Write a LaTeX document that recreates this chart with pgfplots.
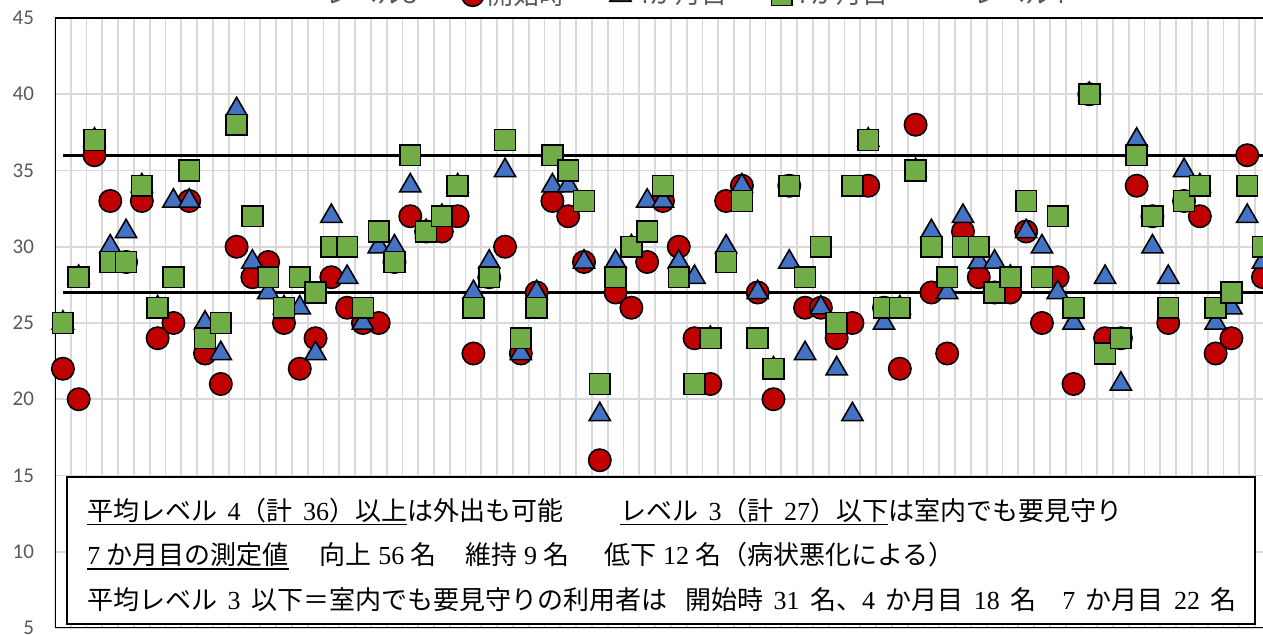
\documentclass[border=0pt]{standalone}
\usepackage{fontspec}
\usepackage{pgfplots}
\usepackage{pgfplotstable}
\pgfplotsset{compat=1.18}
\newfontfamily\cjk{Noto Sans CJK JP}
\newfontfamily\num{Liberation Serif}
\newfontfamily\carlito{Carlito}
\definecolor{cred}{HTML}{C00000}
\definecolor{cblue}{HTML}{4472C4}
\definecolor{cgreen}{HTML}{70AD47}
\definecolor{cgrid}{HTML}{D9D9D9}
\definecolor{ctext}{HTML}{595959}
\newcommand{\ul}[1]{\setbox0\hbox{#1}\rlap{\rule[-2.6pt]{\wd0}{0.9pt}}\box0}
\newcommand{\g}{\hspace{0.4em}}
\newcommand{\h}{\hspace{0.25em}}
\pgfplotstableread{
i c t s
0 22 25 25
1 20 28 28
2 36 37 37
3 33 30 29
4 29 31 29
5 33 34 34
6 24 26 26
7 25 33 28
8 33 33 35
9 23 25 24
10 21 23 25
11 30 39 38
12 28 29 32
13 29 27 28
14 25 26 26
15 22 26 28
16 24 23 27
17 28 32 30
18 26 28 30
19 25 25 26
20 25 30 31
21 29 30 29
22 32 34 36
23 31 31 31
24 31 32 32
25 32 34 34
26 23 27 26
27 28 29 28
28 30 35 37
29 23 23 24
30 27 27 26
31 33 34 36
32 32 34 35
33 29 29 33
34 16 19 21
35 27 29 28
36 26 30 30
37 29 33 31
38 33 33 34
39 30 29 28
40 24 28 21
41 21 24 24
42 33 30 29
43 34 34 33
44 27 27 24
45 20 22 22
46 34 29 34
47 26 23 28
48 26 26 30
49 24 22 25
50 25 19 34
51 34 37 37
52 26 25 26
53 22 26 26
54 38 35 35
55 27 31 30
56 23 27 28
57 31 32 30
58 28 29 30
59 27 29 27
60 27 28 28
61 31 31 33
62 25 30 28
63 28 27 32
64 21 25 26
65 40 40 40
66 24 28 23
67 24 21 24
68 34 37 36
69 32 30 32
70 25 28 26
71 33 35 33
72 32 34 34
73 23 25 26
74 24 26 27
75 36 32 34
76 28 29 30
}\data
\begin{document}
\begin{tikzpicture}
\begin{axis}[
  name=ax, scale only axis, width=604pt, height=305pt,
  xmin=-0.5, xmax=76, ymin=5, ymax=45,
  xtick={0.5,1.5,...,75.5}, xticklabel=\empty,
  ytick={5,10,...,45},
  major tick length=0pt,
  grid=major, grid style={cgrid, line width=0.9pt},
  axis line style={draw=none},
  yticklabel style={font=\carlito\fontsize{10.5}{12}\selectfont, text=ctext, xshift=-7pt},
  /pgf/number format/assume math mode=true,
  legend columns=5,
  legend style={at={(0.515,1)}, anchor=south, yshift=3pt, draw=none, fill=none,
    font=\cjk\fontsize{13}{15}\selectfont, text=ctext, inner sep=0pt,
    /tikz/every even column/.append style={column sep=20pt}},
  legend cell align=left,
]
\addplot[black, line width=1.3pt, forget plot] coordinates {(0,27) (76,27)};
\addplot[black, line width=1.3pt, forget plot] coordinates {(0,36) (76,36)};
\addlegendimage{black, line width=1.3pt}
\addlegendentry{レベル3}
\addplot[only marks, mark=*, mark size=5.6pt, mark options={fill=cred, draw=black, line width=0.8pt}] table[x=i, y=c] {\data};
\addlegendentry{開始時}
\addplot[only marks, mark=triangle*, mark size=6.1pt, mark options={fill=cblue, draw=black, line width=0.8pt}] table[x=i, y=t] {\data};
\addlegendentry{4か月目}
\addplot[only marks, mark=square*, mark size=5.2pt, mark options={fill=cgreen, draw=black, line width=0.8pt}] table[x=i, y=s] {\data};
\addlegendentry{7か月目}
\addlegendimage{black, line width=1.3pt}
\addlegendentry{レベル4}
\draw[black, line width=0.8pt, fill=white] (axis cs:0.25,14.9) rectangle (axis cs:75.5,5.25);
\node[anchor=base west, font=\cjk\fontsize{13}{15}\selectfont, inner sep=0pt] at (axis cs:1.52,12.07)
  {\ul{平均レベル\g{\num 4}（計\g{\num 36}）以上}は外出も可能\hspace{2.2em}\ul{レベル\g{\num 3}（計\g{\num 27}）以下}は室内でも要見守り};
\node[anchor=base west, font=\cjk\fontsize{13}{15}\selectfont, inner sep=0pt] at (axis cs:1.52,9.17)
  {\ul{{\num 7}\h か月目の測定値}\hspace{1.2em}向上\h{\num 56}\h 名\hspace{1.1em}維持\h{\num 9}\h 名\hspace{1.35em}低下\h{\num 12}\h 名（病状悪化による）};
\node[anchor=base west, font=\cjk\fontsize{13}{15}\selectfont, inner sep=0pt] at (axis cs:1.52,6.2)
  {平均レベル\g{\num 3}\g 以下＝室内でも要見守りの利用者は\hspace{0.7em}開始時\g{\num 31}\g 名、{\num 4}\g か月目\g{\num 18}\g 名\hspace{1em}{\num 7}\g か月目\g{\num 22}\g 名};
\draw[black, line width=1.3pt] (rel axis cs:1.01,1) -- (rel axis cs:0,1) -- (rel axis cs:0,0) -- (rel axis cs:1.01,0);
\coordinate (bl) at (rel axis cs:0,0);
\coordinate (tr) at (rel axis cs:1,1);
\end{axis}
\pgfresetboundingbox
\path[use as bounding box] ([xshift=-27.5pt,yshift=-3.5pt]bl) rectangle ([yshift=9pt]tr);
\end{tikzpicture}
\end{document}
